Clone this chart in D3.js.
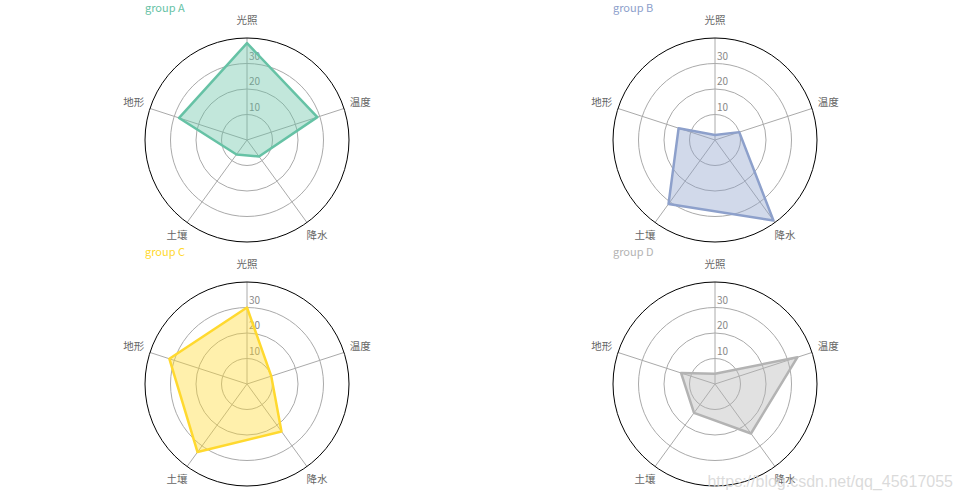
<!DOCTYPE html>
<html>
<head>
<meta charset="utf-8">
<script src="https://cdn.jsdelivr.net/npm/d3@7"></script>
<style>
  body { margin: 0; background: #fff; }
  text { font-family: "Microsoft YaHei", "Noto Sans CJK SC", "Noto Sans", sans-serif; }
</style>
</head>
<body>
<div id="my_dataviz_radar"></div>
<script>
// data
var axes = ["光照", "温度", "降水", "土壤", "地形"]
var groups = ["group A", "group B", "group C", "group D"]
var groupA = [38, 29, 8, 7, 28]
var groupB = [2, 10, 39, 31, 15]
var groupC = [30, 10, 23, 33, 32]
var groupD = [4, 34, 24, 14, 14]
var ticks = [10, 20, 30]
var maxValue = 40

function generateRadar(){

  var width = 962,
      height = 499,
      radius = 102

  var seriesValues = [groupA, groupB, groupC, groupD]
  var colors = ["#66c2a5", "#8da0cb", "#ffd92f", "#b3b3b3"]

  var svg = d3.select("#my_dataviz_radar")
    .append("svg")
      .attr("width", width)
      .attr("height", height)

  // centre of each small radar
  var cx = d3.scaleOrdinal().domain([0, 1]).range([247, 715])
  var cy = d3.scaleOrdinal().domain([0, 1]).range([140, 384])

  var r = d3.scaleLinear().domain([0, maxValue]).range([0, radius])
  var angle = d3.scalePoint().domain(axes.concat(["_end"])).range([0, 2 * Math.PI])

  groups.forEach(function(name, i){
    var g = svg.append("g")
      .attr("transform", "translate(" + cx(i % 2) + "," + cy(Math.floor(i / 2)) + ")")

    // rings
    g.selectAll(".ring")
      .data(ticks)
      .enter()
      .append("circle")
        .attr("r", function(d){ return r(d) })
        .attr("fill", "none")
        .attr("stroke", "#aaa")
        .attr("stroke-width", 1)

    // spokes
    g.selectAll(".spoke")
      .data(axes)
      .enter()
      .append("line")
        .attr("x1", 0).attr("y1", 0)
        .attr("x2", function(d){ return r(maxValue) * Math.sin(angle(d)) })
        .attr("y2", function(d){ return -r(maxValue) * Math.cos(angle(d)) })
        .attr("stroke", "#aaa")
        .attr("stroke-width", 1)

    // outer circle
    g.append("circle")
      .attr("r", r(maxValue))
      .attr("fill", "none")
      .attr("stroke", "#000")
      .attr("stroke-width", 1)

    // tick labels
    g.selectAll(".tick")
      .data(ticks)
      .enter()
      .append("text")
        .attr("x", 2)
        .attr("y", function(d){ return -r(d) - 4 })
        .attr("font-size", 10)
        .attr("fill", "#888")
        .text(function(d){ return d })

    // axis labels
    g.selectAll(".axislabel")
      .data(axes)
      .enter()
      .append("text")
        .attr("x", function(d){ return (radius + 17) * Math.sin(angle(d)) })
        .attr("y", function(d){ return -(radius + 17) * Math.cos(angle(d)) })
        .attr("text-anchor", "middle")
        .attr("dominant-baseline", "middle")
        .attr("font-size", 10.5)
        .attr("fill", "#666")
        .text(function(d){ return d })

    // the shape
    var line = d3.lineRadial()
      .angle(function(d, j){ return angle(axes[j]) })
      .radius(function(d){ return r(d) })
      .curve(d3.curveLinearClosed)

    g.append("path")
      .datum(seriesValues[i])
      .attr("d", line)
      .attr("fill", colors[i])
      .attr("fill-opacity", 0.4)
      .attr("stroke", colors[i])
      .attr("stroke-width", 2.5)
      .attr("stroke-linejoin", "round")

    // title
    g.append("text")
      .attr("x", -radius)
      .attr("y", -128)
      .attr("font-size", 11)
      .attr("fill", colors[i])
      .text(name)
  })

  // watermark
  svg.append("text")
    .attr("x", 953)
    .attr("y", 487)
    .attr("text-anchor", "end")
    .attr("font-size", 16)
    .style("font-family", "'Liberation Sans', Arial, sans-serif")
    .attr("fill", "#d4d4d4")
    .attr("fill-opacity", 0.85)
    .text("https://blog.csdn.net/qq_45617055")
}

generateRadar();
</script>
</body>
</html>
